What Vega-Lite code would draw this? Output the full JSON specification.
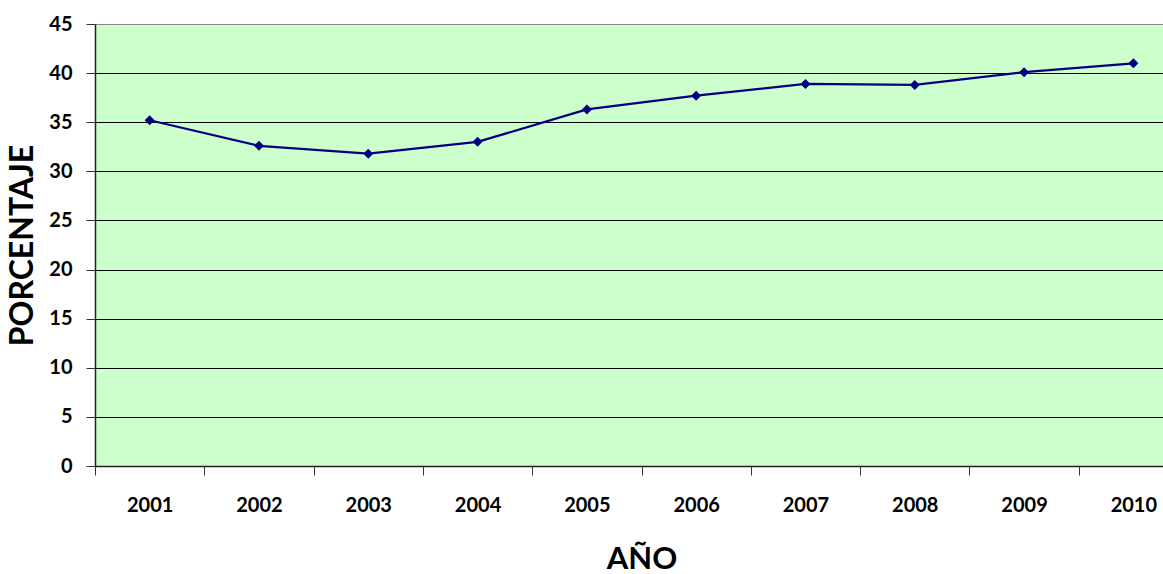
{
  "$schema": "https://vega.github.io/schema/vega-lite/v6.json",
  "autosize": {"type": "none"},
  "padding": {"left": 95, "top": 24, "right": 0, "bottom": 108},
  "width": 1093,
  "height": 442,
  "background": "white",
  "config": {
    "view": {"fill": "#CCFFCC", "stroke": null},
    "font": "Lato"
  },
  "data": {
    "values": [
      {"anio": "2001", "porcentaje": 35.2},
      {"anio": "2002", "porcentaje": 32.6},
      {"anio": "2003", "porcentaje": 31.8},
      {"anio": "2004", "porcentaje": 33.0},
      {"anio": "2005", "porcentaje": 36.3},
      {"anio": "2006", "porcentaje": 37.7},
      {"anio": "2007", "porcentaje": 38.9},
      {"anio": "2008", "porcentaje": 38.8},
      {"anio": "2009", "porcentaje": 40.1},
      {"anio": "2010", "porcentaje": 41.0}
    ]
  },
  "mark": {"type": "line", "color": "#000080", "strokeWidth": 2.2, "point": {"shape": "diamond", "size": 100, "color": "#000080", "filled": true}},
  "encoding": {
    "x": {
      "field": "anio", "type": "ordinal", "bandPosition": 0.5,
      "scale": {"type": "band", "paddingInner": 0, "paddingOuter": 0},
      "axis": {
        "title": "AÑO", "titleFontSize": 31, "titleFontWeight": "bold", "titleColor": "black", "titlePadding": 29,
        "labelAngle": 0, "labelFontSize": 20, "labelFontWeight": "bold", "labelColor": "black", "labelPadding": 20,
        "tickBand": "extent", "tickSize": 9, "tickColor": "#333333", "domainColor": "#222222", "domainWidth": 1.5,
        "grid": false
      }
    },
    "y": {
      "field": "porcentaje", "type": "quantitative",
      "scale": {"domain": [0, 45], "nice": false},
      "axis": {
        "title": "PORCENTAJE", "titleFontSize": 32, "titleFontWeight": "bold", "titleColor": "black", "titlePadding": 9,
        "values": [0, 5, 10, 15, 20, 25, 30, 35, 40, 45],
        "labelFontSize": 20, "labelFontWeight": "bold", "labelColor": "black", "labelPadding": 14,
        "tickSize": 9, "tickColor": "#333333", "domainColor": "#222222", "domainWidth": 1.5,
        "grid": true, "gridWidth": 1.2, "gridOpacity": 1,
        "gridColor": {"condition": {"test": "datum.value == 45", "value": "#888888"}, "value": "black"}
      }
    }
  }
}
